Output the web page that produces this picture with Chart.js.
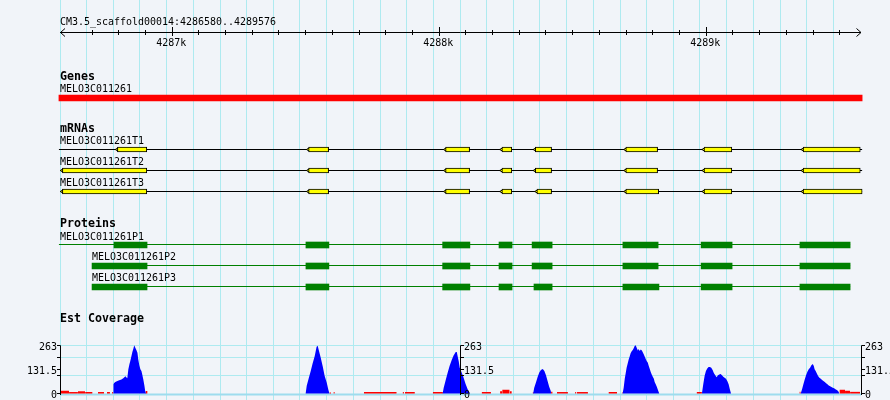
<!DOCTYPE html>
<html><head><meta charset="utf-8">
<script src="https://cdn.jsdelivr.net/npm/chart.js@4.4.1/dist/chart.umd.min.js"></script>
<style>html,body{margin:0;padding:0;background:#f1f4f9;} canvas{display:block;background:#f1f4f9;}</style>
</head><body>
<canvas id="c" width="890" height="400"></canvas>
<script>
// ---------------- data ----------------
const viewStart = 4286580, viewEnd = 4289576;
const rulerTitle = 'CM3.5_scaffold00014:4286580..4289576';
const rulerMajorTicks = [4287000, 4288000, 4289000];
const rulerMajorLabels = ['4287k', '4288k', '4289k'];
const trackTitles = ['Genes', 'mRNAs', 'Proteins', 'Est Coverage'];

const geneNames = ['MELO3C011261'];
const geneSpans = [[4286576, 4289584]];

const mrnaNames = ['MELO3C011261T1', 'MELO3C011261T2', 'MELO3C011261T3'];
const mrnaSpans = [[4286576, 4289584], [4286582, 4289584], [4286582, 4289584]];
const mrnaT1Exons = [[4286795,4286905],[4287511,4287586],[4288024,4288114],[4288235,4288272],[4288360,4288421],[4288699,4288818],[4288992,4289096],[4289363,4289577]];
const mrnaT2Exons = [[4286589,4286905],[4287511,4287586],[4288024,4288114],[4288235,4288272],[4288360,4288421],[4288699,4288818],[4288992,4289096],[4289363,4289577]];
const mrnaT3Exons = [[4286589,4286905],[4287511,4287586],[4288024,4288114],[4288235,4288272],[4288366,4288421],[4288699,4288822],[4288992,4289096],[4289363,4289584]];

const proteinNames = ['MELO3C011261P1', 'MELO3C011261P2', 'MELO3C011261P3'];
const proteinSpans = [[4286576, 4289539], [4286700, 4289539], [4286700, 4289539]];
const proteinP1Cds = [[4286782,4286906],[4287501,4287587],[4288013,4288115],[4288224,4288273],[4288348,4288423],[4288688,4288820],[4288981,4289097],[4289351,4289539]];
const proteinP2Cds = [[4286700,4286906],[4287501,4287587],[4288013,4288115],[4288224,4288273],[4288348,4288423],[4288688,4288820],[4288981,4289097],[4289351,4289539]];
const proteinP3Cds = [[4286700,4286906],[4287501,4287587],[4288013,4288115],[4288224,4288273],[4288355,4288423],[4288688,4288823],[4288981,4289097],[4289351,4289539]];

const covMax = 263;
const covTickValues = [263, 197.25, 131.5, 98.6, 0];
const covLabelValues = [263, 131.5, 0];
const covLabels = ['263', '131.5', '0'];
const covGridValues = [263, 197.25, 98.6];

// EST coverage, plus strand (blue): [position, depth]
const covPlus = [
 [4286779,0],[4286780,50],[4286783,57],[4286787,63],[4286795,68],[4286802,72],[4286810,76],[4286817,83],[4286825,94],[4286828,88],[4286832,83],[4286836,132],[4286840,159],[4286843,176],[4286847,201],[4286851,226],[4286855,245],[4286858,263],[4286862,250],[4286866,237],[4286870,222],[4286873,187],[4286877,154],[4286881,132],[4286885,123],[4286888,104],[4286892,77],[4286896,44],[4286899,14],[4286902,0],
 [4287500,0],[4287504,42],[4287511,81],[4287519,123],[4287526,164],[4287534,205],[4287541,255],[4287545,261],[4287549,238],[4287556,198],[4287564,148],[4287571,97],[4287579,58],[4287585,21],[4287589,0],
 [4288013,0],[4288017,31],[4288025,77],[4288032,114],[4288039,150],[4288047,183],[4288054,208],[4288062,227],[4288066,227],[4288069,205],[4288073,178],[4288077,141],[4288082,123],[4288090,93],[4288099,52],[4288107,22],[4288113,5],[4288116,0],
 [4288352,0],[4288356,31],[4288363,63],[4288369,91],[4288375,114],[4288381,128],[4288388,134],[4288394,123],[4288400,100],[4288406,68],[4288412,37],[4288418,14],[4288419,0],
 [4288687,0],[4288691,31],[4288695,81],[4288699,114],[4288702,141],[4288706,164],[4288710,187],[4288714,205],[4288717,219],[4288721,231],[4288725,238],[4288729,248],[4288732,259],[4288736,263],[4288740,248],[4288744,235],[4288747,243],[4288751,232],[4288755,240],[4288759,235],[4288762,226],[4288766,214],[4288770,201],[4288774,187],[4288777,178],[4288781,169],[4288785,150],[4288789,132],[4288792,118],[4288796,104],[4288800,92],[4288804,81],[4288807,63],[4288811,50],[4288815,37],[4288819,21],[4288822,8],[4288824,0],
 [4288984,0],[4288989,50],[4288994,95],[4288999,123],[4289004,137],[4289009,144],[4289014,144],[4289019,141],[4289024,128],[4289029,111],[4289034,100],[4289039,88],[4289044,100],[4289049,104],[4289054,106],[4289059,100],[4289064,92],[4289069,86],[4289074,81],[4289079,68],[4289084,50],[4289089,21],[4289093,0],
 [4289354,0],[4289359,23],[4289364,50],[4289369,77],[4289374,100],[4289379,118],[4289384,132],[4289389,141],[4289394,154],[4289399,161],[4289403,150],[4289406,132],[4289410,123],[4289414,111],[4289419,95],[4289424,86],[4289429,81],[4289434,74],[4289439,68],[4289444,63],[4289449,56],[4289454,50],[4289459,44],[4289464,39],[4289469,35],[4289474,32],[4289479,28],[4289484,23],[4289489,19],[4289494,14],[4289499,0]
];
// EST coverage, minus strand (red): [start, end, depth]
const covMinus = [
 [4286580,4286614,15],[4286614,4286647,8],[4286647,4286674,12],[4286674,4286702,8],[4286722,4286745,8],[4286756,4286767,8],[4286775,4286780,8],[4286900,4286908,14],
 [4287589,4287595,6],[4287604,4287609,8],[4287718,4287841,8],[4287863,4287868,8],[4287872,4287909,8],[4287976,4288014,8],
 [4288159,4288194,8],[4288228,4288236,12],[4288236,4288264,20],[4288264,4288272,12],[4288350,4288354,8],[4288419,4288425,10],[4288441,4288482,8],
 [4288509,4288514,8],[4288516,4288557,8],[4288634,4288666,8],[4288684,4288687,8],[4288964,4288984,8],[4289349,4289354,10],
 [4289499,4289520,20],[4289520,4289539,15],[4289539,4289576,9]
];

// ---------------- layout (pixel rows) ----------------
const L = {
  rulerTitleY: 25, rulerAxisY: 32.5, rulerLabelY: 46,
  genesTitleY: 80, geneLabelY: 92, geneRow: 98,
  mrnaTitleY: 132, mrnaLabelY: [144, 165, 186], mrnaRow: [149.5, 170.5, 191.5],
  protTitleY: 227, protLabelY: [240, 260, 281], protLabelX: [60, 92, 92],
  protLineRow: [244.5, 265.5, 286.5], protBoxRow: [245, 266, 287],
  covTitleY: 322, covBase: 393.5, covTop: 345.3, H: 400
};
const kc = (L.covBase - L.covTop) / covMax;
const ycMax = L.covBase / kc;
const ycMin = ycMax - L.H / kc;

const COL = { bg:'#f1f4f9', gridMinor:'#aeeaf0', gridMajor:'#8ad2ea', gene:'#ff0000', exon:'#ffff00', prot:'#008000', covPlus:'#0000ff', covMinus:'#ff0000' };

// ---------------- datasets ----------------
const ds = [];
ds.push({type:'bar', indexAxis:'y', data: geneSpans.map(s => ({x:s, y:L.geneRow})), backgroundColor:COL.gene, barThickness:6, grouped:false, borderWidth:0, borderSkipped:false, clip:3, order:1});

[mrnaT1Exons, mrnaT2Exons, mrnaT3Exons].forEach((ex, i) => {
  const row = L.mrnaRow[i];
  ds.push({type:'line', data: mrnaSpans[i].map(v => ({x:v, y:row})), borderColor:'#000', borderWidth:1, pointRadius:0, clip:3, order:3});
  ds.push({type:'scatter', data: ex.map(e => ({x:e[0], y:row})), pointStyle:'triangle', pointRotation:-90, pointRadius:2.2, pointBackgroundColor:COL.exon, pointBorderColor:'#000', pointBorderWidth:1, clip:3, order:2});
  ds.push({type:'bar', indexAxis:'y', data: ex.map(e => ({x:e, y:row})), backgroundColor:COL.exon, borderColor:'#000', borderWidth:1, barThickness:5, grouped:false, borderSkipped:false, clip:3, order:1});
});

[proteinP1Cds, proteinP2Cds, proteinP3Cds].forEach((cds, i) => {
  ds.push({type:'line', data: proteinSpans[i].map(v => ({x:v, y:L.protLineRow[i]})), borderColor:COL.prot, borderWidth:1, pointRadius:0, clip:3, order:3});
  ds.push({type:'bar', indexAxis:'y', data: cds.map(c => ({x:c, y:L.protBoxRow[i]})), backgroundColor:COL.prot, barThickness:6, grouped:false, borderWidth:0, borderSkipped:false, clip:3, order:1});
});

ds.push({type:'line', yAxisID:'yc', data: covPlus.map(p => ({x:p[0], y:p[1]})), borderWidth:0, borderColor:'rgba(0,0,0,0)', backgroundColor:COL.covPlus, fill:'origin', pointRadius:0, tension:0, order:4});
const minusPts = [];
covMinus.forEach(s => { minusPts.push({x:s[0], y:s[2]}, {x:s[1], y:s[2]}, {x:s[1], y:null}); });
ds.push({type:'line', yAxisID:'yc', data: minusPts, borderWidth:0, borderColor:'rgba(0,0,0,0)', backgroundColor:COL.covMinus, fill:'origin', spanGaps:false, pointRadius:0, tension:0, order:5});

// ---------------- text helper ----------------
function txt(ctx, s, x, y, bold, align) {
  const size = bold ? 12 : 11;
  ctx.font = (bold ? 'bold ' : '') + size + 'px "DejaVu Sans Mono", monospace';
  const sx = bold ? 7 / (0.602 * 12) : 6 / (0.602 * 11);
  const w = ctx.measureText(s).width * sx;
  let x0 = x;
  if (align === 'right') x0 = x - w; else if (align === 'center') x0 = x - w / 2;
  ctx.save();
  ctx.translate(x0, y); ctx.scale(sx, 1);
  ctx.textAlign = 'left'; ctx.textBaseline = 'alphabetic'; ctx.fillStyle = '#000';
  ctx.fillText(s, 0, 0);
  ctx.restore();
}
function seg(ctx, x1, y1, x2, y2) { ctx.beginPath(); ctx.moveTo(x1, y1); ctx.lineTo(x2, y2); ctx.stroke(); }

// ---------------- plugin ----------------
const overlay = {
  id: 'overlay',
  beforeDatasetsDraw(chart) {
    const ctx = chart.ctx, x = chart.scales.x, yc = chart.scales.yc;
    ctx.save();
    ctx.strokeStyle = COL.gridMinor; ctx.lineWidth = 1;
    covGridValues.forEach(v => { const py = Math.floor(yc.getPixelForValue(v)) + 0.5; seg(ctx, x.left, py, x.right + 1, py); });
    ctx.strokeStyle = '#9edcee'; ctx.lineWidth = 2;
    const b = yc.getPixelForValue(0) + 1;
    seg(ctx, x.left, b, x.right + 1, b);
    ctx.restore();
  },
  afterDraw(chart) {
    const ctx = chart.ctx, x = chart.scales.x, yc = chart.scales.yc;
    ctx.save();
    ctx.strokeStyle = '#000'; ctx.lineWidth = 1;
    // ruler
    const ay = L.rulerAxisY;
    seg(ctx, x.left, ay, x.right + 1, ay);
    for (let g = Math.ceil((viewStart + 100) / 100) * 100; g < viewEnd; g += 100) {
      const px = Math.floor(x.getPixelForValue(g)) + 0.5;
      if (rulerMajorTicks.includes(g)) seg(ctx, px, ay - 5.5, px, ay + 3.5);
      else seg(ctx, px, ay - 2.5, px, ay + 2.5);
    }
    ctx.beginPath(); ctx.moveTo(x.left + 5, ay - 4); ctx.lineTo(x.left + 0.5, ay); ctx.lineTo(x.left + 5, ay + 4); ctx.stroke();
    ctx.beginPath(); ctx.moveTo(x.right - 3.5, ay - 4); ctx.lineTo(x.right + 1, ay); ctx.lineTo(x.right - 3.5, ay + 4); ctx.stroke();
    txt(ctx, rulerTitle, 60, L.rulerTitleY, false);
    rulerMajorTicks.forEach((g, i) => txt(ctx, rulerMajorLabels[i], x.getPixelForValue(g) - 1, L.rulerLabelY, false, 'center'));
    // track titles and names
    txt(ctx, trackTitles[0], 60, L.genesTitleY, true);
    txt(ctx, geneNames[0], 60, L.geneLabelY, false);
    txt(ctx, trackTitles[1], 60, L.mrnaTitleY, true);
    mrnaNames.forEach((n, i) => txt(ctx, n, 60, L.mrnaLabelY[i], false));
    txt(ctx, trackTitles[2], 60, L.protTitleY, true);
    proteinNames.forEach((n, i) => txt(ctx, n, L.protLabelX[i], L.protLabelY[i], false));
    txt(ctx, trackTitles[3], 60, L.covTitleY, true);
    // coverage axes (left, middle, right)
    const axes = [[x.left, -1], [(x.left + x.right) / 2, 1], [x.right + 1, 1]];
    axes.forEach(([ax, dir]) => {
      const lx = Math.floor(ax) + 0.5;
      const top = Math.floor(yc.getPixelForValue(covMax)) + 0.5;
      const bot = yc.getPixelForValue(0) + 1.5;
      seg(ctx, lx, top, lx, bot);
      covTickValues.forEach(v => { const py = Math.floor(yc.getPixelForValue(v)) + 0.5; seg(ctx, lx, py, lx + dir * 3.5, py); });
      covLabelValues.forEach((v, j) => {
        const py = yc.getPixelForValue(v) + 4.5;
        if (dir < 0) txt(ctx, covLabels[j], lx - 3.5, py, false, 'right');
        else txt(ctx, covLabels[j], lx + 3.5, py, false);
      });
    });
    ctx.restore();
  }
};

new Chart(document.getElementById('c'), {
  type: 'line',
  data: { datasets: ds },
  options: {
    responsive: false, animation: false, events: [],
    layout: { autoPadding: false, padding: { left: 60, right: 30, top: 0, bottom: 0 } },
    plugins: { legend: { display: false }, tooltip: { enabled: false } },
    scales: {
      x: { type: 'linear', min: viewStart, max: viewEnd, offset: false,
           ticks: { display: false, stepSize: 100 },
           grid: { drawTicks: false, offset: false, lineWidth: 1,
                   color: c => (c.tick && c.tick.value >= viewEnd) ? 'rgba(0,0,0,0)' : (c.tick && c.tick.value % 1000 === 0 ? COL.gridMajor : COL.gridMinor) },
           border: { display: false } },
      y: { type: 'linear', min: 0, max: L.H, reverse: true, display: false, offset: false },
      yc: { type: 'linear', min: ycMin, max: ycMax, display: false, offset: false }
    }
  },
  plugins: [overlay]
});
</script>
</body></html>
